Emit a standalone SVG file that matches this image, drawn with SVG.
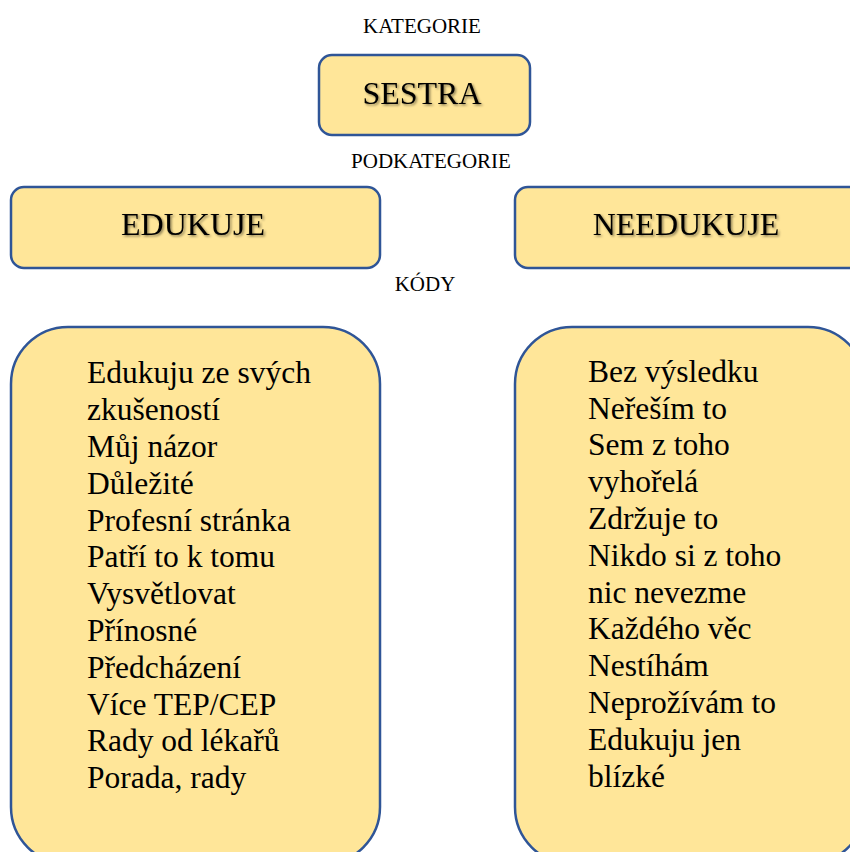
<svg xmlns="http://www.w3.org/2000/svg" width="850" height="852" viewBox="0 0 850 852">
<style>
.box{fill:#FFE699;stroke:#2F5597;stroke-width:2.5}
.lbl{font-family:"Liberation Serif","Times New Roman",serif;font-size:21px;fill:#000;text-anchor:middle}
.head{font-family:"Liberation Serif","Times New Roman",serif;font-size:32px;fill:#000;text-anchor:middle;filter:url(#sh)}
.body{font-family:"Liberation Serif","Times New Roman",serif;font-size:31.5px;fill:#000}
</style>
<defs>
<filter id="sh" x="-10%" y="-30%" width="120%" height="160%">
<feDropShadow dx="1.5" dy="1.5" stdDeviation="1" flood-color="#000" flood-opacity="0.45"/>
</filter>
</defs>
<rect width="850" height="852" fill="#fff"/>
<g id="labels">
<text class="lbl" x="422" y="33">KATEGORIE</text>
<text class="lbl" x="431" y="168">PODKATEGORIE</text>
<text class="lbl" x="425" y="291">KÓDY</text>
</g>
<g id="sestra">
<rect class="box" x="319" y="55" width="211" height="80" rx="13"/>
<text class="head" x="422" y="104">SESTRA</text>
</g>
<g id="edukuje">
<rect class="box" x="11" y="187" width="369" height="81" rx="13"/>
<text class="head" x="193" y="235">EDUKUJE</text>
</g>
<g id="needukuje">
<rect class="box" x="515" y="187" width="350" height="81" rx="13"/>
<text class="head" x="686" y="235">NEEDUKUJE</text>
</g>
<g id="kody-edukuje">
<rect class="box" x="11" y="327" width="369" height="537" rx="57"/>
<text class="body" x="87">
<tspan x="87" y="383.3">Edukuju ze svých</tspan>
<tspan x="87" y="420.1">zkušeností</tspan>
<tspan x="87" y="456.9">Můj názor</tspan>
<tspan x="87" y="493.7">Důležité</tspan>
<tspan x="87" y="530.5">Profesní stránka</tspan>
<tspan x="87" y="567.3">Patří to k tomu</tspan>
<tspan x="87" y="604.1">Vysvětlovat</tspan>
<tspan x="87" y="640.9">Přínosné</tspan>
<tspan x="87" y="677.7">Předcházení</tspan>
<tspan x="87" y="714.5">Více TEP/CEP</tspan>
<tspan x="87" y="751.3">Rady od lékařů</tspan>
<tspan x="87" y="788.1">Porada, rady</tspan>
</text>
</g>
<g id="kody-needukuje">
<rect class="box" x="515" y="327" width="350" height="537" rx="57"/>
<text class="body" x="588">
<tspan x="588" y="381.7">Bez výsledku</tspan>
<tspan x="588" y="418.5">Neřeším to</tspan>
<tspan x="588" y="455.3">Sem z toho</tspan>
<tspan x="588" y="492.1">vyhořelá</tspan>
<tspan x="588" y="528.9">Zdržuje to</tspan>
<tspan x="588" y="565.7">Nikdo si z toho</tspan>
<tspan x="588" y="602.5">nic nevezme</tspan>
<tspan x="588" y="639.3">Každého věc</tspan>
<tspan x="588" y="676.1">Nestíhám</tspan>
<tspan x="588" y="712.9">Neprožívám to</tspan>
<tspan x="588" y="749.7">Edukuju jen</tspan>
<tspan x="588" y="786.5">blízké</tspan>
</text>
</g>
<g id="connectors"/>
</svg>
